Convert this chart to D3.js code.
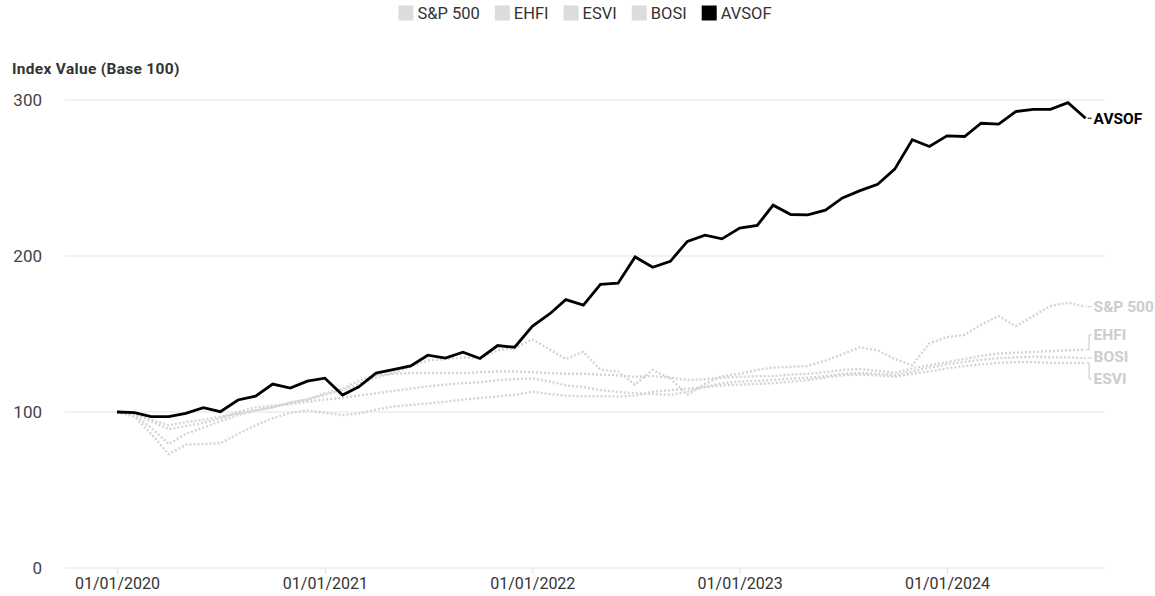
<!DOCTYPE html>
<html>
<head>
<meta charset="utf-8">
<script src="https://cdn.jsdelivr.net/npm/d3@7"></script>
<style>
  body { margin: 0; background: #fff; }
  svg text { font-family: Roboto, "Noto Sans", sans-serif; }
</style>
</head>
<body>
<svg id="chart" width="1155" height="596"></svg>
<script>
// Monthly observations, January 2020 to September 2024
const months = [
  "2020-01","2020-02","2020-03","2020-04","2020-05","2020-06","2020-07","2020-08","2020-09","2020-10","2020-11","2020-12",
  "2021-01","2021-02","2021-03","2021-04","2021-05","2021-06","2021-07","2021-08","2021-09","2021-10","2021-11","2021-12",
  "2022-01","2022-02","2022-03","2022-04","2022-05","2022-06","2022-07","2022-08","2022-09","2022-10","2022-11","2022-12",
  "2023-01","2023-02","2023-03","2023-04","2023-05","2023-06","2023-07","2023-08","2023-09","2023-10","2023-11","2023-12",
  "2024-01","2024-02","2024-03","2024-04","2024-05","2024-06","2024-07","2024-08","2024-09"
];

const sp500 = [
  100, 98, 90, 79.5, 86, 90, 94, 98, 101, 103, 106, 108,
  111, 114, 118, 122, 125, 129, 133, 134, 135, 134.5, 139.5, 141,
  146.5, 140, 134, 138.5, 127, 126, 117.5, 127, 121.5, 111, 118, 123,
  124.5, 127, 128.5, 129, 129.5, 133, 137, 141.5, 139.5, 134, 130, 144,
  148, 149.5, 156, 161.5, 155, 161.5, 168, 170, 167.5
];
const ehfi = [
  100, 99, 95, 91.5, 93.5, 95, 97, 99, 101, 103, 106, 108,
  112, 115, 120, 123.5, 124.5, 125, 125, 125, 125, 125.5, 126, 126,
  125.5, 125, 124.5, 124.5, 124, 123.5, 122.5, 123, 122, 120.5, 121, 122,
  122.5, 123, 123, 124, 124.5, 125.5, 127, 127.5, 126.5, 125, 128, 130,
  132, 134, 136, 137.5, 138, 138.5, 139, 139.5, 140
];
const esvi = [
  100, 97, 86, 73, 79, 79.5, 80, 86, 91.5, 96, 99.5, 101,
  99.5, 98, 99, 101.5, 103.5, 104.5, 105.5, 106.5, 108, 109, 110, 111,
  113, 111.5, 110.5, 110, 110, 110, 110.5, 113, 114, 115, 116, 117,
  117.5, 118, 118.5, 119.5, 120.5, 122, 123.5, 124, 123.5, 122.5, 124.5, 126,
  128, 129.5, 130.5, 131.5, 132, 132, 131.5, 131.5, 131.4
];
const bosi = [
  100, 99, 94, 89, 91, 93, 96, 100, 103, 104, 105, 106.5,
  108, 109, 110.5, 112, 113.5, 115, 116.5, 117.5, 118.5, 119, 120.5, 121,
  121.6, 119.5, 117, 116, 114, 112.8, 112, 111.5, 111, 113, 116, 118.5,
  119.5, 120, 120.5, 121.5, 122, 123, 124.5, 125, 124.5, 123.5, 126, 128.5,
  130.5, 132, 133.5, 134.5, 135, 135.5, 135, 135, 134.6
];
const avsof = [
  100, 99.6, 97, 97, 99.1, 102.8, 100.2, 107.7, 110.2, 117.9, 115.3, 119.8,
  121.7, 110.9, 116, 124.9, 127.2, 129.6, 136.4, 134.5, 138.3, 134.3, 142.6, 141.5,
  154.9, 163, 172, 168.5, 181.8, 182.6, 199.4, 192.8, 196.6, 209.4, 213.4, 211,
  217.9, 219.6, 232.6, 226.6, 226.4, 229.4, 237.2, 241.9, 246, 255.7, 274.5, 270.2,
  277, 276.6, 285.1, 284.5, 292.6, 294, 294, 298.3, 288.3
];

const seriesNames = ["S&P 500", "EHFI", "ESVI", "BOSI", "AVSOF"];
const yTicks = [0, 100, 200, 300];
const xTicks = ["2020-01", "2021-01", "2022-01", "2023-01", "2024-01"];
const yTitle = "Index Value (Base 100)";

const parseMonth = d3.timeParse("%Y-%m");
const dates = months.map(parseMonth);

const series = [
  { name: seriesNames[0], values: sp500, highlight: false },
  { name: seriesNames[1], values: ehfi,  highlight: false },
  { name: seriesNames[2], values: esvi,  highlight: false },
  { name: seriesNames[3], values: bosi,  highlight: false },
  { name: seriesNames[4], values: avsof, highlight: true }
];

const GREY = "#d4d4d4";
const GREY_TEXT = "#cdcdcd";
const INK = "#333";

const svg = d3.select("#chart");

const gridLeft = 65, gridRight = 1105;
const x = d3.scaleTime()
  .domain([dates[0], dates[dates.length - 1]])
  .range([117, 1085.6]);
const y = d3.scaleLinear().domain([0, 300]).range([568, 100]);

// Horizontal gridlines with value labels on the left
const grid = svg.append("g");
grid.selectAll("line").data(yTicks).join("line")
  .attr("x1", gridLeft).attr("x2", gridRight)
  .attr("y1", d => y(d)).attr("y2", d => y(d))
  .attr("stroke", "#e4e4e4").attr("stroke-width", 1.2);
grid.selectAll("text").data(yTicks).join("text")
  .attr("x", 42).attr("y", d => y(d)).attr("dy", "0.35em")
  .attr("text-anchor", "end")
  .attr("fill", "#444").attr("font-size", 17)
  .text(d => d);

// Axis title
svg.append("text")
  .attr("x", 12).attr("y", 74)
  .attr("fill", INK).attr("font-size", 15.5).attr("font-weight", 700)
  .attr("letter-spacing", 0.3)
  .text(yTitle);

// Date axis
const xAxis = d3.axisBottom(x)
  .tickValues(xTicks.map(parseMonth))
  .tickFormat(d3.timeFormat("%d/%m/%Y"))
  .tickSize(6).tickSizeOuter(0);
const xg = svg.append("g").attr("transform", `translate(0,${y(0)})`).call(xAxis);
xg.select(".domain").remove();
xg.selectAll(".tick line").attr("stroke", "#e4e4e4").attr("stroke-width", 1.2);
xg.selectAll(".tick text")
  .attr("fill", INK).attr("font-size", 16)
  .attr("font-family", 'Roboto, "Noto Sans", sans-serif')
  .attr("y", 10);

// Lines
const line = d3.line()
  .x((d, i) => x(dates[i]))
  .y(d => y(d));

const lines = svg.append("g");
series.filter(s => !s.highlight).forEach(s => {
  lines.append("path")
    .attr("d", line(s.values))
    .attr("fill", "none")
    .attr("stroke", GREY)
    .attr("stroke-width", 2.4)
    .attr("stroke-dasharray", "2 2")
    .attr("stroke-linejoin", "round");
});
series.filter(s => s.highlight).forEach(s => {
  lines.append("path")
    .attr("d", line(s.values))
    .attr("fill", "none")
    .attr("stroke", "#000")
    .attr("stroke-width", 2.8)
    .attr("stroke-linejoin", "miter");
});

// Direct labels at the line ends, spread apart so they never overlap
const xEnd = x(dates[dates.length - 1]);
const labels = series.map(s => ({
  name: s.name,
  highlight: s.highlight,
  y0: y(s.values[s.values.length - 1])
}));
labels.sort((a, b) => a.y0 - b.y0);
labels.forEach(d => d.y = d.y0);
const minGap = 22;
for (let iter = 0; iter < 500; iter++) {
  let moved = false;
  for (let i = 1; i < labels.length; i++) {
    const a = labels[i - 1], b = labels[i];
    const overlap = minGap - (b.y - a.y);
    if (overlap > 0.01) { a.y -= overlap / 2; b.y += overlap / 2; moved = true; }
  }
  if (!moved) break;
}

const lab = svg.append("g");
labels.forEach(d => {
  const col = d.highlight ? "#000" : GREY_TEXT;
  const path = Math.abs(d.y - d.y0) < 1.5
    ? `M${xEnd + 2},${d.y0}H${xEnd + 6}`
    : `M${xEnd + 1},${d.y0}H${xEnd + 3.5}V${d.y}H${xEnd + 6}`;
  lab.append("path").attr("d", path)
    .attr("fill", "none").attr("stroke", d.highlight ? "#000" : "#c4c4c4")
    .attr("stroke-width", 1);
  lab.append("text")
    .attr("x", xEnd + 8).attr("y", d.y).attr("dy", "0.35em")
    .attr("fill", col).attr("font-size", 15.5).attr("font-weight", 700)
    .text(d.name);
});

// Legend, centred above the plot
const legend = svg.append("g");
let cursor = 0;
series.forEach(s => {
  const g = legend.append("g");
  g.append("rect").attr("width", 15).attr("height", 15).attr("y", -7.5)
    .attr("fill", s.highlight ? "#000" : "#dcdcdc");
  const t = g.append("text").attr("x", 19).attr("dy", "0.35em")
    .attr("fill", INK).attr("font-size", 16.5).text(s.name);
  const w = 19 + t.node().getComputedTextLength();
  g.attr("transform", `translate(${cursor},0)`);
  cursor += w + 15;
});
const legendWidth = cursor - 15;
legend.attr("transform", `translate(${(gridLeft + gridRight) / 2 - legendWidth / 2},13)`);
</script>
</body>
</html>
